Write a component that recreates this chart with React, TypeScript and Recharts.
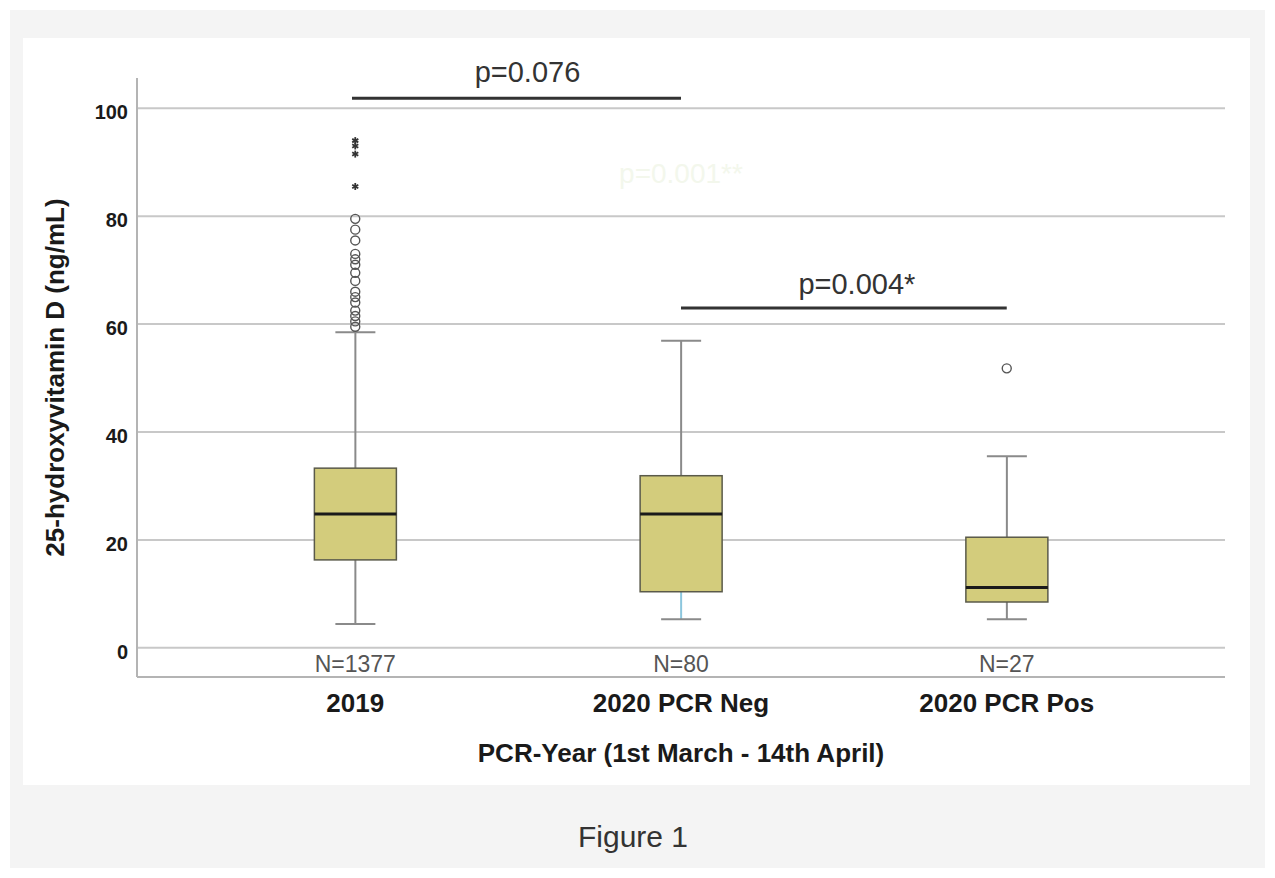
import React from 'react';
import { ComposedChart, Bar, Scatter, XAxis, YAxis, CartesianGrid, ReferenceLine, ReferenceDot } from 'recharts';

const categories = ['2019', '2020 PCR Neg', '2020 PCR Pos'];
const groupSizes = ['N=1377', 'N=80', 'N=27'];
const whiskerLow = [4.4, 5.3, 5.3];
const quartile1 = [16.3, 10.4, 8.5];
const medians = [24.8, 24.8, 11.2];
const quartile3 = [33.3, 31.9, 20.5];
const whiskerHigh = [58.5, 56.9, 35.5];
const outliers2019 = [79.5, 77.5, 75.5, 73, 72, 71, 69.5, 68, 66, 65, 64, 62.5, 61.5, 60.5, 59.5];
const extremes2019 = [94, 93, 91.5, 85.5];
const outliersPos = [51.8];
const yTicks = [0, 20, 40, 60, 80, 100];

const FONT = '"Liberation Sans", Arial, sans-serif';
// the lower whisker of the PCR Neg group is tinted blue in the source
const lowWhiskerColors = ['#8a8a8a', '#8cc6dd', '#8a8a8a'];

const boxData = categories.map((name, i) => ({
  x: i + 1,
  name,
  range: [quartile1[i], quartile3[i]],
  low: whiskerLow[i],
  q1: quartile1[i],
  med: medians[i],
  q3: quartile3[i],
  high: whiskerHigh[i],
}));

const circleData = [
  ...outliers2019.map((v) => ({ x: 1, y: v })),
  ...outliersPos.map((v) => ({ x: 3, y: v })),
];
const starData = extremes2019.map((v) => ({ x: 1, y: v }));

const BoxShape = (props: any) => {
  const { x, y, width, height, payload, index } = props;
  if (!payload) return null;
  // linear scale: recover pixel positions from the bar's own q1..q3 extent
  const k = height / (payload.q3 - payload.q1);
  const py = (v: number) => y + (payload.q3 - v) * k;
  const cx = x + width / 2;
  const cap = 20;
  return (
    <g>
      <line x1={cx} x2={cx} y1={py(payload.high)} y2={y} stroke="#8a8a8a" strokeWidth={2} />
      <line x1={cx - cap} x2={cx + cap} y1={py(payload.high)} y2={py(payload.high)} stroke="#8a8a8a" strokeWidth={2} />
      <line x1={cx} x2={cx} y1={y + height} y2={py(payload.low)} stroke={lowWhiskerColors[index]} strokeWidth={2} />
      <line x1={cx - cap} x2={cx + cap} y1={py(payload.low)} y2={py(payload.low)} stroke="#8a8a8a" strokeWidth={2} />
      <rect x={x} y={y} width={width} height={height} fill="#d3cc7c" stroke="#5a5a4a" strokeWidth={1.5} />
      <line x1={x} x2={x + width} y1={py(payload.med)} y2={py(payload.med)} stroke="#1a1a1a" strokeWidth={3} />
    </g>
  );
};

const CircleShape = (props: any) => (
  <circle cx={props.cx} cy={props.cy} r={4.5} fill="none" stroke="#555" strokeWidth={1.4} />
);

const StarShape = (props: any) => {
  const { cx, cy } = props;
  const r = 3.5;
  return (
    <g stroke="#333" strokeWidth={1.8}>
      <line x1={cx} x2={cx} y1={cy - r} y2={cy + r} />
      <line x1={cx - r * 0.87} x2={cx + r * 0.87} y1={cy - r / 2} y2={cy + r / 2} />
      <line x1={cx - r * 0.87} x2={cx + r * 0.87} y1={cy + r / 2} y2={cy - r / 2} />
    </g>
  );
};

const CategoryTick = (props: any) => {
  const { x, y, payload } = props;
  const i = payload.value - 1;
  return (
    <g fontFamily={FONT}>
      <text x={x} y={y - 5} textAnchor="middle" fontSize={23} fill="#555">{groupSizes[i]}</text>
      <text x={x} y={y + 35} textAnchor="middle" fontSize={26} fontWeight="bold" fill="#1a1a1a">{categories[i]}</text>
    </g>
  );
};

export default function App() {
  return (
    <div style={{ position: 'relative', left: 2, top: 2, width: 1255, height: 860, background: '#f4f4f4' }}>
      <div style={{ position: 'absolute', left: 13, top: 28, width: 1227, height: 747, background: '#fff' }}>
        <ComposedChart width={1227} height={747} data={boxData} margin={{ top: 40, right: 25, bottom: 0, left: 0 }}>
          <CartesianGrid horizontal vertical={false} syncWithTicks stroke="#c8c8c8" strokeWidth={2} />
          <XAxis
            dataKey="x"
            type="number"
            domain={[0.33, 3.67]}
            ticks={[1, 2, 3]}
            height={108}
            tickSize={0}
            tickMargin={0}
            tickLine={false}
            axisLine={{ stroke: '#b4b4b4', strokeWidth: 2 }}
            tick={<CategoryTick />}
            label={{ value: 'PCR-Year (1st March - 14th April)', position: 'insideBottom', offset: 23, fontSize: 26, fontWeight: 'bold', fill: '#1a1a1a', fontFamily: FONT }}
          />
          <YAxis
            type="number"
            domain={[-5.4, 105.6]}
            ticks={yTicks}
            width={114}
            tickSize={0}
            tickMargin={9}
            tickLine={false}
            axisLine={{ stroke: '#b4b4b4', strokeWidth: 2 }}
            tick={{ fontSize: 20, fontWeight: 'bold', fill: '#1a1a1a', fontFamily: FONT, dy: 4 }}
            label={{ value: '25-hydroxyvitamin D (ng/mL)', angle: -90, position: 'insideLeft', offset: 32, fontSize: 26, fontWeight: 'bold', fill: '#1a1a1a', fontFamily: FONT, style: { textAnchor: 'middle' } }}
          />
          <Bar dataKey="range" barSize={82} shape={<BoxShape />} isAnimationActive={false} />
          <Scatter data={circleData} dataKey="y" shape={<CircleShape />} isAnimationActive={false} />
          <Scatter data={starData} dataKey="y" shape={<StarShape />} isAnimationActive={false} />
          <ReferenceLine
            segment={[{ x: 0.99, y: 101.85 }, { x: 2, y: 101.85 }]}
            stroke="#333"
            strokeWidth={3}
            label={{ value: 'p=0.076', position: 'top', offset: 16, dx: 11, fontSize: 29, fill: '#333', fontFamily: FONT }}
          />
          <ReferenceLine
            segment={[{ x: 2, y: 63 }, { x: 3, y: 63 }]}
            stroke="#333"
            strokeWidth={3}
            label={{ value: 'p=0.004*', position: 'top', offset: 14, dx: 13, fontSize: 29, fill: '#333', fontFamily: FONT }}
          />
          <ReferenceDot
            x={2}
            y={88}
            r={0}
            stroke="none"
            label={{ value: 'p=0.001**', position: 'center', fontSize: 28, fill: '#f3f7ec', fontFamily: FONT }}
          />
        </ComposedChart>
      </div>
      <div style={{ position: 'absolute', left: 0, top: 812, width: 1246, textAlign: 'center', fontFamily: FONT, fontSize: 30, lineHeight: '30px', color: '#333' }}>
        Figure 1
      </div>
    </div>
  );
}
